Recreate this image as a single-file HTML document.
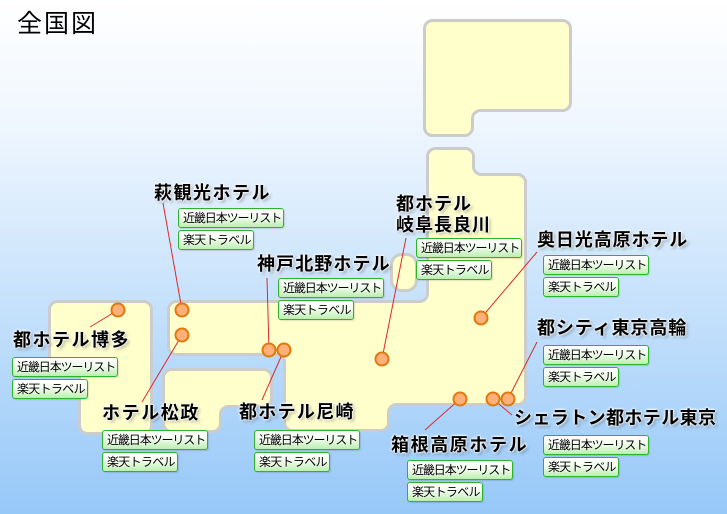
<!DOCTYPE html>
<html><head><meta charset="utf-8">
<style>
html,body{margin:0;padding:0;}
body{width:727px;height:514px;position:relative;overflow:hidden;font-family:"Liberation Sans","Noto Sans CJK JP",sans-serif;}
svg{position:absolute;left:0;top:0;}
.t{position:absolute;font-weight:bold;font-size:18px;line-height:18px;color:#000;white-space:nowrap;
 text-shadow:0 0 2px #fff,0 0 2px #fff,0 0 3px #fff,2px 2px 3px rgba(0,0,0,0.35);}
.b{position:absolute;box-sizing:border-box;height:20px;border:1px solid #2cb52c;border-radius:3px;
 background:linear-gradient(#ffffff 0%,#f6fff2 35%,#bdeeb2 100%);font-size:12px;line-height:18px;padding-left:4px;
 white-space:nowrap;color:#000;text-shadow:0 0 2px #fff,0 0 2px #fff;box-shadow:1px 1px 1px rgba(0,0,0,0.12);}
.b1{width:106px;letter-spacing:-1.1px;}
.b2{width:76px;letter-spacing:-0.7px;}
.title{position:absolute;left:17px;top:10px;font-size:25px;line-height:28px;letter-spacing:2px;color:#000;
 text-shadow:0 0 2px #fff;}
</style></head>
<body>
<svg width="727" height="514" viewBox="0 0 727 514" xmlns="http://www.w3.org/2000/svg">
<defs>
<linearGradient id="bg" x1="0" y1="0" x2="0" y2="1">
<stop offset="0" stop-color="#ffffff"/>
<stop offset="0.25" stop-color="#eef6fe"/>
<stop offset="1" stop-color="#96c8f8"/>
</linearGradient>
</defs>
<rect x="0" y="0" width="727" height="514" fill="url(#bg)"/>
<g fill="#ffffcc" stroke="#cccccc" stroke-width="3">
<path d="M 432.5 20.5 H 562.5 A 8 8 0 0 1 570.5 28.5 V 102.5 A 8 8 0 0 1 562.5 110.5 H 480.5 A 8 8 0 0 0 472.5 118.5 V 127.5 A 8 8 0 0 1 464.5 135.5 H 432.5 A 8 8 0 0 1 424.5 127.5 V 28.5 A 8 8 0 0 1 432.5 20.5 Z"/>
<path d="M 435.5 148.5 H 465.5 A 8 8 0 0 1 473.5 156.5 V 166.5 A 8 8 0 0 0 481.5 174.5 H 517.5 A 8 8 0 0 1 525.5 182.5 V 396.5 A 8 8 0 0 1 517.5 404.5 H 396.5 A 8 8 0 0 0 388.5 412.5 V 422.5 A 8 8 0 0 1 380.5 430.5 H 292.5 A 8 8 0 0 1 284.5 422.5 V 362.5 A 8 8 0 0 0 276.5 354.5 H 176.5 A 8 8 0 0 1 168.5 346.5 V 309.5 A 8 8 0 0 1 176.5 301.5 H 419.5 A 8 8 0 0 0 427.5 293.5 V 156.5 A 8 8 0 0 1 435.5 148.5 Z"/>
<path d="M 57.5 301.5 H 143.5 A 8 8 0 0 1 151.5 309.5 V 425.5 A 8 8 0 0 1 143.5 433.5 H 87.5 A 8 8 0 0 1 79.5 425.5 V 371.5 A 8 8 0 0 0 71.5 363.5 H 57.5 A 8 8 0 0 1 49.5 355.5 V 309.5 A 8 8 0 0 1 57.5 301.5 Z"/>
<path d="M 171.5 369.5 H 263.5 A 8 8 0 0 1 271.5 377.5 V 398.5 A 8 8 0 0 1 263.5 406.5 H 228.5 A 8 8 0 0 0 220.5 414.5 V 423.5 A 8 8 0 0 1 212.5 431.5 H 171.5 A 8 8 0 0 1 163.5 423.5 V 377.5 A 8 8 0 0 1 171.5 369.5 Z"/>
<rect x="391.5" y="254.5" width="25" height="36" rx="10" ry="10"/>
</g>
<g stroke="#dd2a2a" stroke-width="1" fill="none">
<line x1="163" y1="203" x2="182" y2="310"/>
<line x1="90" y1="327" x2="118" y2="310"/>
<line x1="142" y1="402" x2="182" y2="335"/>
<line x1="267" y1="278" x2="269" y2="350"/>
<line x1="262" y1="400" x2="284" y2="350"/>
<line x1="406" y1="238" x2="382" y2="359"/>
<line x1="537" y1="252" x2="481" y2="318"/>
<line x1="537" y1="342" x2="508" y2="399"/>
<line x1="425" y1="430" x2="460" y2="399"/>
<line x1="512" y1="415" x2="493" y2="399"/>
</g>
<g fill="#ffb078" stroke="#e0780e" stroke-width="2">
<circle cx="118" cy="310" r="6.5"/>
<circle cx="182" cy="310" r="6.5"/>
<circle cx="182" cy="335" r="6.5"/>
<circle cx="269" cy="350" r="6.5"/>
<circle cx="284" cy="350" r="6.5"/>
<circle cx="382" cy="359" r="6.5"/>
<circle cx="481" cy="318" r="6.5"/>
<circle cx="460" cy="399" r="6.5"/>
<circle cx="493" cy="399" r="6.5"/>
<circle cx="508" cy="399" r="6.5"/>
</g>
</svg>

<div class="title">全国図</div>

<div class="t" style="left:154px;top:184px;letter-spacing:1.5px;">萩観光ホテル</div>
<div class="b b1" style="left:178px;top:208px;">近畿日本ツーリスト</div>
<div class="b b2" style="left:178px;top:230px;">楽天トラベル</div>

<div class="t" style="left:257px;top:255px;letter-spacing:1.1px;">神戸北野ホテル</div>
<div class="b b1" style="left:278px;top:278px;">近畿日本ツーリスト</div>
<div class="b b2" style="left:278px;top:300px;">楽天トラベル</div>

<div class="t" style="left:396px;top:194px;letter-spacing:1px;line-height:21px;">都ホテル<br>岐阜長良川</div>
<div class="b b1" style="left:416px;top:238px;">近畿日本ツーリスト</div>
<div class="b b2" style="left:416px;top:260px;">楽天トラベル</div>

<div class="t" style="left:537px;top:231px;letter-spacing:0.9px;">奥日光高原ホテル</div>
<div class="b b1" style="left:543px;top:255px;">近畿日本ツーリスト</div>
<div class="b b2" style="left:543px;top:277px;">楽天トラベル</div>

<div class="t" style="left:537px;top:319px;letter-spacing:0.9px;">都シティ東京高輪</div>
<div class="b b1" style="left:543px;top:345px;">近畿日本ツーリスト</div>
<div class="b b2" style="left:543px;top:367px;">楽天トラベル</div>

<div class="t" style="left:13px;top:331px;letter-spacing:1.5px;">都ホテル博多</div>
<div class="b b1" style="left:12px;top:357px;">近畿日本ツーリスト</div>
<div class="b b2" style="left:12px;top:379px;">楽天トラベル</div>

<div class="t" style="left:102px;top:404px;letter-spacing:1.6px;">ホテル松政</div>
<div class="b b1" style="left:102px;top:430px;">近畿日本ツーリスト</div>
<div class="b b2" style="left:102px;top:452px;">楽天トラベル</div>

<div class="t" style="left:239px;top:403px;letter-spacing:1.3px;">都ホテル尼崎</div>
<div class="b b1" style="left:254px;top:430px;">近畿日本ツーリスト</div>
<div class="b b2" style="left:254px;top:452px;">楽天トラベル</div>

<div class="t" style="left:391px;top:436px;letter-spacing:1.6px;">箱根高原ホテル</div>
<div class="b b1" style="left:407px;top:460px;">近畿日本ツーリスト</div>
<div class="b b2" style="left:407px;top:482px;">楽天トラベル</div>

<div class="t" style="left:514px;top:409px;letter-spacing:0.4px;">シェラトン都ホテル東京</div>
<div class="b b1" style="left:543px;top:435px;">近畿日本ツーリスト</div>
<div class="b b2" style="left:543px;top:457px;">楽天トラベル</div>
</body></html>
